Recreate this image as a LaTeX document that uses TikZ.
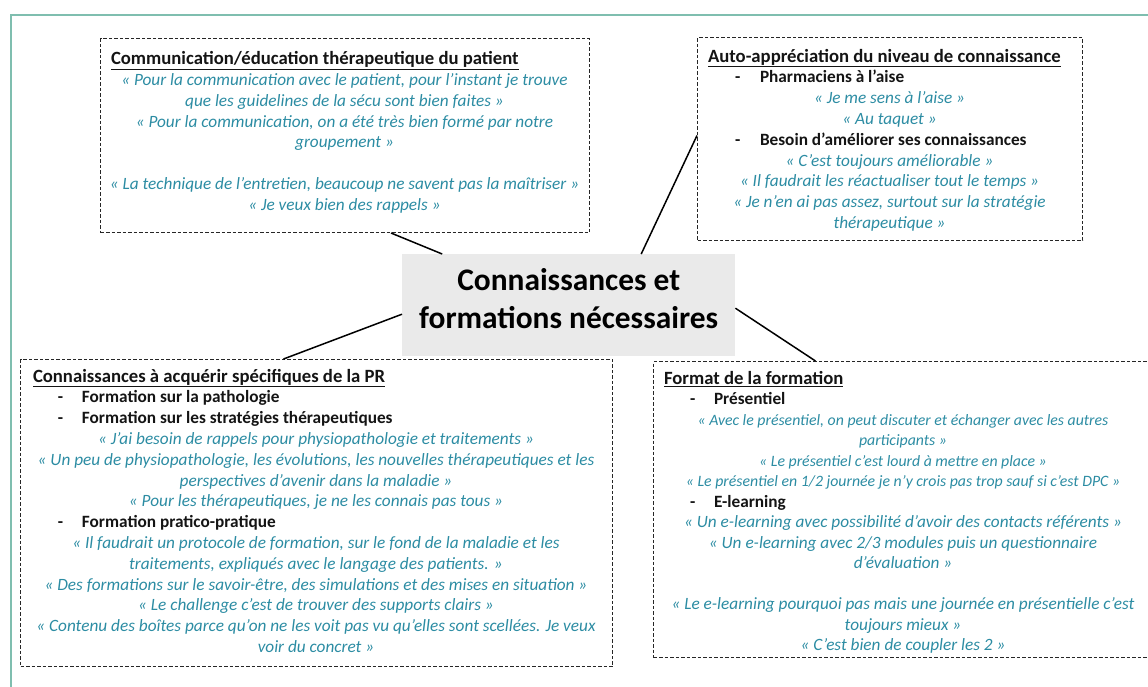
\documentclass[tikz,border=0pt]{standalone}
\usepackage{fontspec}
\setmainfont{Carlito}
\usetikzlibrary{calc}
\definecolor{quote}{RGB}{44,140,163}
\definecolor{frameteal}{RGB}{127,190,175}
\definecolor{centerfill}{RGB}{234,234,234}
\definecolor{ink}{RGB}{20,20,20}
\newcommand\qt[1]{{\color{quote}\itshape #1}}
\newcommand\qs[1]{{\fontsize{15.8}{20.5}\selectfont\color{quote}\itshape #1}}
\newcommand\ttl[3]{\makebox[#1][l]{\hspace{#2}\fontsize{18.7}{20.8}\selectfont\textbf{\underline{#3}}}}
\newcommand\bul[4]{\makebox[#1][l]{\hspace{#2}\makebox[#3][l]{\textbf{-}}\textbf{#4}}}
\tikzset{
  dbox/.style={draw=black!85, line width=1pt, dash pattern=on 3.5pt off 2pt, anchor=north west, inner sep=0pt},
  txt/.style={anchor=north, inner sep=0pt, align=center, text=ink, font=\fontsize{17.25}{20.8}\selectfont},
  txtb/.style={anchor=north, inner sep=0pt, align=center, text=ink, font=\fontsize{17.25}{20.5}\selectfont},
  link/.style={draw=black, line width=1.5pt},
  hub/.style={fill=centerfill, draw=none, anchor=north west, inner sep=0pt, align=center, text=black, text depth=13pt, font=\fontsize{31.4}{38}\selectfont\bfseries}
}
\begin{document}
\begin{tikzpicture}[x=1pt,y=-1pt]
\useasboundingbox (0,0) rectangle (1148,686);
\clip (0,0) rectangle (1148,686);
% outer frame (top and left edges visible)
\draw[frameteal, line width=2pt] (1160,15) -- (11,15) -- (11,700);
% boxes
\node[dbox, minimum width=489pt, minimum height=194pt] (b1) at (100,38) {};
\node[dbox, minimum width=385pt, minimum height=203pt] (b2) at (697,37) {};
\node[dbox, minimum width=592pt, minimum height=307pt] (b3) at (20,359) {};
\node[dbox, minimum width=500pt, minimum height=296pt] (b4) at (653,361) {};
\node[hub, minimum width=333pt, minimum height=102pt] (c) at (402,254) {Connaissances et\\formations nécessaires};
% connectors
\draw[link] ([xshift=46pt]b1.south) -- ([xshift=-126.5pt]c.north);
\draw[link] ([yshift=3.5pt]b2.west) -- ([xshift=72.5pt]c.north);
\draw[link] ([yshift=-9pt]c.west) -- ([xshift=-33pt]b3.north);
\draw[link] ([yshift=-3pt]c.east) -- ([xshift=-88pt]b4.north);
% texts
\node[txt] (t1) at (344.5,49.9) {\strut\ttl{480pt}{6.5pt}{Communication/éducation thérapeutique du patient}\\
\qt{« Pour la communication avec le patient, pour l’instant je trouve}\\
\qt{que les guidelines de la sécu sont bien faites »}\\
\qt{« Pour la communication, on a été très bien formé par notre}\\
\qt{groupement »}\\[20.8pt]
\qt{« La technique de l’entretien, beaucoup ne savent pas la maîtriser »}\\
\qt{« Je veux bien des rappels »}};
\node[txt] (t2) at (889.5,47.4) {\strut\ttl{370pt}{3.5pt}{Auto-appréciation du niveau de connaissance}\\
\bul{370pt}{30.5pt}{25pt}{Pharmaciens à l’aise}\\
\qt{« Je me sens à l’aise »}\\
\qt{« Au taquet »}\\
\bul{370pt}{30.5pt}{25pt}{Besoin d’améliorer ses connaissances}\\
\qt{« C’est toujours améliorable »}\\
\qt{« Il faudrait les réactualiser tout le temps »}\\
\qt{« Je n’en ai pas assez, surtout sur la stratégie}\\
\qt{thérapeutique »}};
\node[txt] (t3) at (316,367.4) {\strut\ttl{580pt}{7pt}{Connaissances à acquérir spécifiques de la PR}\\
\bul{580pt}{32pt}{24pt}{Formation sur la pathologie}\\
\bul{580pt}{32pt}{24pt}{Formation sur les stratégies thérapeutiques}\\
\qt{« J’ai besoin de rappels pour physiopathologie et traitements »}\\
\qt{« Un peu de physiopathologie, les évolutions, les nouvelles thérapeutiques et les}\\
\qt{perspectives d’avenir dans la maladie »}\\
\qt{« Pour les thérapeutiques, je ne les connais pas tous »}\\
\bul{580pt}{32pt}{24pt}{Formation pratico-pratique}\\
\qt{« Il faudrait un protocole de formation, sur le fond de la maladie et les}\\
\qt{traitements, expliqués avec le langage des patients. »}\\
\qt{« Des formations sur le savoir-être, des simulations et des mises en situation »}\\
\qt{« Le challenge c’est de trouver des supports clairs »}\\
\qt{« Contenu des boîtes parce qu’on ne les voit pas vu qu’elles sont scellées. Je veux}\\
\qt{voir du concret »}};
\node[txtb] (t4) at (903,369.65) {\strut\ttl{480pt}{1pt}{Format de la formation}\\
\bul{480pt}{27pt}{24pt}{Présentiel}\\
\qs{« Avec le présentiel, on peut discuter et échanger avec les autres}\\
\qs{participants »}\\
\qs{« Le présentiel c’est lourd à mettre en place »}\\
\qs{« Le présentiel en 1/2 journée je n’y crois pas trop sauf si c’est DPC »}\\
\bul{480pt}{27pt}{24pt}{E-learning}\\
\qt{« Un e-learning avec possibilité d’avoir des contacts référents »}\\
\qt{« Un e-learning avec 2/3 modules puis un questionnaire}\\
\qt{d’évaluation »}\\[20.5pt]
\qt{« Le e-learning pourquoi pas mais une journée en présentielle c’est}\\
\qt{toujours mieux »}\\
\qt{« C’est bien de coupler les 2 »}};
\end{tikzpicture}
\end{document}
